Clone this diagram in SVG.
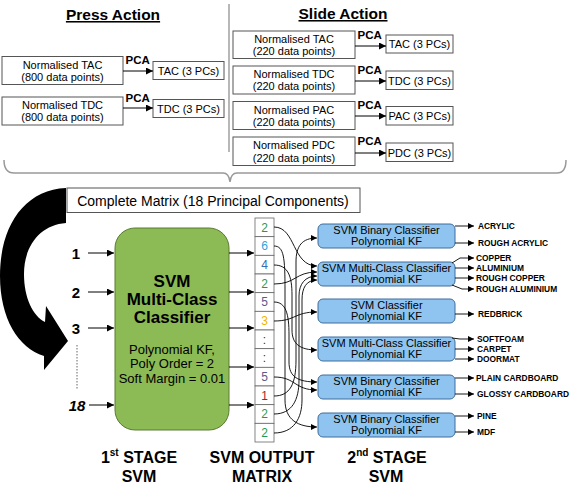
<svg xmlns="http://www.w3.org/2000/svg" width="572" height="486" viewBox="0 0 572 486">
<defs>
<marker id="a" viewBox="0 0 10 10" refX="10" refY="5" markerWidth="9" markerHeight="7" markerUnits="userSpaceOnUse" orient="auto"><path d="M0,0 L10,5 L0,10 Z" fill="#000"/></marker>
<marker id="as" viewBox="0 0 10 10" refX="10" refY="5" markerWidth="8" markerHeight="6" markerUnits="userSpaceOnUse" orient="auto"><path d="M0,0 L10,5 L0,10 Z" fill="#000"/></marker>
</defs>
<style>
text{font-family:"Liberation Sans",Arial,sans-serif;fill:#000}
.b{fill:#fff;stroke:#555;stroke-width:1}
.s11{font-size:11px}
.pca{font-size:11.5px;font-weight:bold}
.ttl{font-size:15.5px;font-weight:bold;text-decoration:underline}
.arr{fill:none;stroke:#000;stroke-width:1;marker-end:url(#a)}
.con{fill:none;stroke:#000;stroke-width:0.9;marker-end:url(#as)}
.blue{fill:#8fc4f0;stroke:#3f6d9c;stroke-width:1}
.bt{font-size:11px;text-anchor:middle}
.lab{font-size:8.4px;font-weight:bold}
.num{font-size:15px;font-weight:bold;text-anchor:middle}
.cell{fill:#fff;stroke:#666;stroke-width:0.8}
.cn{font-size:12px;text-anchor:middle}
.big{font-size:16px;font-weight:bold;text-anchor:middle}
</style>
<rect width="572" height="486" fill="#fff"/>

<g id="titles">
<text class="ttl" x="113" y="20" text-anchor="middle">Press Action</text>
<text class="ttl" x="343" y="19" text-anchor="middle">Slide Action</text>
<line x1="229" y1="4" x2="229" y2="152" stroke="#888" stroke-width="1.2"/>
</g>

<g id="press-tac">
<rect class="b" x="2" y="56.5" width="121" height="28"/>
<text class="s11" x="62.5" y="68.5" text-anchor="middle">Normalised TAC</text>
<text class="s11" x="62.5" y="80.5" text-anchor="middle">(800 data points)</text>
<text class="pca" x="125.5" y="64">PCA</text>
<rect class="b" x="153" y="61.5" width="71" height="18"/>
<text class="s11" x="188.5" y="74.5" text-anchor="middle">TAC (3 PCs)</text>
</g>
<g id="press-tdc">
<rect class="b" x="2" y="97" width="121" height="28"/>
<text class="s11" x="62.5" y="109" text-anchor="middle">Normalised TDC</text>
<text class="s11" x="62.5" y="121" text-anchor="middle">(800 data points)</text>
<text class="pca" x="125.5" y="102">PCA</text>
<rect class="b" x="153" y="99.5" width="71" height="18"/>
<text class="s11" x="188.5" y="112.5" text-anchor="middle">TDC (3 PCs)</text>
</g>

<g id="slide-tac">
<rect class="b" x="233" y="31" width="122" height="27.5"/>
<text class="s11" x="294" y="43" text-anchor="middle">Normalised TAC</text>
<text class="s11" x="294" y="55" text-anchor="middle">(220 data points)</text>
<text class="pca" x="357.5" y="39">PCA</text>
<rect class="b" x="386" y="35" width="67" height="18"/>
<text class="s11" x="419.5" y="48" text-anchor="middle">TAC (3 PCs)</text>
</g>
<g id="slide-tdc">
<rect class="b" x="233" y="66" width="122" height="28"/>
<text class="s11" x="294" y="78" text-anchor="middle">Normalised TDC</text>
<text class="s11" x="294" y="90" text-anchor="middle">(220 data points)</text>
<text class="pca" x="357.5" y="73.5">PCA</text>
<rect class="b" x="386" y="71" width="67" height="18.5"/>
<text class="s11" x="419.5" y="84.5" text-anchor="middle">TDC (3 PCs)</text>
</g>
<g id="slide-pac">
<rect class="b" x="233" y="101.5" width="122" height="28"/>
<text class="s11" x="294" y="113.5" text-anchor="middle">Normalised PAC</text>
<text class="s11" x="294" y="125.5" text-anchor="middle">(220 data points)</text>
<text class="pca" x="357.5" y="109">PCA</text>
<rect class="b" x="386" y="106.5" width="67" height="18.5"/>
<text class="s11" x="419.5" y="120" text-anchor="middle">PAC (3 PCs)</text>
</g>
<g id="slide-pdc">
<rect class="b" x="233" y="137" width="122" height="28.5"/>
<text class="s11" x="294" y="149" text-anchor="middle">Normalised PDC</text>
<text class="s11" x="294" y="161.5" text-anchor="middle">(220 data points)</text>
<text class="pca" x="357.5" y="145">PCA</text>
<rect class="b" x="386" y="143" width="67" height="18.5"/>
<text class="s11" x="419.5" y="156.5" text-anchor="middle">PDC (3 PCs)</text>
</g>

<g id="brace">
<path d="M4,160 Q4,173 14,173 L223,173 Q229,173 230,182 Q231,173 237,173 L557,173 Q566,173 566,160" fill="none" stroke="#999" stroke-width="1.5"/>
</g>

<g id="complete-matrix">
<rect class="b" x="67" y="188" width="293" height="24.5"/>
<text x="213" y="205.5" font-size="14" text-anchor="middle">Complete Matrix (18 Principal Components)</text>
</g>

<g id="big-arrow">
<path d="M66,188 C24,190 0,226 0,276 C0,318 18,348 44,356 L44,370 L68,341 L46,306 L45,322 C33,316 24,298 24,274 C24,246 40,225 66,223 Z" fill="#000"/>
</g>

<g id="inputs">
<text class="num" x="76" y="259">1</text>
<text class="num" x="76" y="298">2</text>
<text class="num" x="76" y="334">3</text>
<line x1="77" y1="345" x2="77" y2="390" stroke="#666" stroke-width="1" stroke-dasharray="1.5,1.5"/>
<text class="num" x="77" y="411" font-style="italic">18</text>
</g>

<g id="svm1">
<rect x="115" y="228" width="114" height="202" rx="20" fill="#8cba55" stroke="#5a7b33" stroke-width="1"/>
<text x="172" y="287" font-size="17" font-weight="bold" text-anchor="middle">SVM</text>
<text x="172" y="305" font-size="17" font-weight="bold" text-anchor="middle">Multi-Class</text>
<text x="172" y="323" font-size="17" font-weight="bold" text-anchor="middle">Classifier</text>
<text x="172" y="354" font-size="13" text-anchor="middle">Polynomial KF,</text>
<text x="172" y="368" font-size="13" text-anchor="middle">Poly Order = 2</text>
<text x="172" y="383" font-size="13" text-anchor="middle">Soft Margin = 0.01</text>
</g>

<g id="matrix">
<rect class="cell" x="255" y="218" width="19" height="18.67"/>
<rect class="cell" x="255" y="236.67" width="19" height="18.67"/>
<rect class="cell" x="255" y="255.33" width="19" height="18.67"/>
<rect class="cell" x="255" y="274" width="19" height="18.67"/>
<rect class="cell" x="255" y="292.67" width="19" height="18.67"/>
<rect class="cell" x="255" y="311.33" width="19" height="18.67"/>
<rect class="cell" x="255" y="330" width="19" height="18.67"/>
<rect class="cell" x="255" y="348.67" width="19" height="18.67"/>
<rect class="cell" x="255" y="367.33" width="19" height="18.67"/>
<rect class="cell" x="255" y="386" width="19" height="18.67"/>
<rect class="cell" x="255" y="404.67" width="19" height="18.67"/>
<rect class="cell" x="255" y="423.33" width="19" height="18.67"/>
<text class="cn" x="264.5" y="231.5" style="fill:#1f9a55">2</text>
<text class="cn" x="264.5" y="250.2" style="fill:#2ea3dc">6</text>
<text class="cn" x="264.5" y="268.9" style="fill:#2f6fb3">4</text>
<text class="cn" x="264.5" y="287.5" style="fill:#1f9a55">2</text>
<text class="cn" x="264.5" y="306.2" style="fill:#5b5a8e">5</text>
<text class="cn" x="264.5" y="324.9" style="fill:#f0b400">3</text>
<text class="cn" x="264.5" y="343.5" style="fill:#333">:</text>
<text class="cn" x="264.5" y="362.2" style="fill:#333">:</text>
<text class="cn" x="264.5" y="380.9" style="fill:#5b5a8e">5</text>
<text class="cn" x="264.5" y="399.5" style="fill:#a51f2c">1</text>
<text class="cn" x="264.5" y="418.2" style="fill:#1f9a55">2</text>
<text class="cn" x="264.5" y="436.9" style="fill:#1f9a55">2</text>
</g>

<g id="svm2-1">
<rect class="blue" x="318" y="224" width="137" height="24" rx="5"/>
<text class="bt" x="386.5" y="234">SVM Binary Classifier</text>
<text class="bt" x="386.5" y="245">Polynomial KF</text>
</g>
<g id="svm2-2">
<rect class="blue" x="318" y="262" width="137" height="24" rx="5"/>
<text class="bt" x="386.5" y="272">SVM Multi-Class Classifier</text>
<text class="bt" x="386.5" y="283">Polynomial KF</text>
</g>
<g id="svm2-3">
<rect class="blue" x="318" y="299" width="137" height="24" rx="5"/>
<text class="bt" x="386.5" y="309">SVM Classifier</text>
<text class="bt" x="386.5" y="320">Polynomial KF</text>
</g>
<g id="svm2-4">
<rect class="blue" x="318" y="337" width="137" height="24" rx="5"/>
<text class="bt" x="386.5" y="347">SVM Multi-Class Classifier</text>
<text class="bt" x="386.5" y="358">Polynomial KF</text>
</g>
<g id="svm2-5">
<rect class="blue" x="318" y="375" width="137" height="24" rx="5"/>
<text class="bt" x="386.5" y="385">SVM Binary Classifier</text>
<text class="bt" x="386.5" y="396">Polynomial KF</text>
</g>
<g id="svm2-6">
<rect class="blue" x="318" y="413" width="137" height="24" rx="5"/>
<text class="bt" x="386.5" y="423">SVM Binary Classifier</text>
<text class="bt" x="386.5" y="434">Polynomial KF</text>
</g>

<g id="outputs">
<text class="lab" x="478" y="229">ACRYLIC</text>
<text class="lab" x="478" y="246">ROUGH ACRYLIC</text>
<text class="lab" x="476" y="260.5">COPPER</text>
<text class="lab" x="476" y="270.5">ALUMINIUM</text>
<text class="lab" x="476" y="281">ROUGH COPPER</text>
<text class="lab" x="476" y="292">ROUGH ALUMINIUM</text>
<text class="lab" x="478" y="317">REDBRICK</text>
<text class="lab" x="477" y="341.5">SOFTFOAM</text>
<text class="lab" x="477" y="351.5">CARPET</text>
<text class="lab" x="477" y="361.5">DOORMAT</text>
<text class="lab" x="476" y="381">PLAIN CARDBOARD</text>
<text class="lab" x="477" y="397">GLOSSY CARDBOARD</text>
<text class="lab" x="477" y="419">PINE</text>
<text class="lab" x="477" y="435">MDF</text>
</g>

<g id="labels">
<text class="big" x="139" y="463">1<tspan font-size="10" dy="-7">st</tspan><tspan dy="7"> STAGE</tspan></text>
<text class="big" x="139" y="482">SVM</text>
<text class="big" x="262" y="463">SVM OUTPUT</text>
<text class="big" x="262" y="482">MATRIX</text>
<text class="big" x="387" y="463">2<tspan font-size="10" dy="-7">nd</tspan><tspan dy="7"> STAGE</tspan></text>
<text class="big" x="386" y="482">SVM</text>
</g>

<g id="connectors">
<line class="arr" x1="123" y1="71" x2="153" y2="71"/>
<line class="arr" x1="123" y1="108" x2="153" y2="108"/>
<line class="arr" x1="355" y1="46" x2="386" y2="46"/>
<line class="arr" x1="355" y1="81" x2="386" y2="81"/>
<line class="arr" x1="355" y1="116" x2="386" y2="116"/>
<line class="arr" x1="355" y1="153" x2="386" y2="153"/>

<line class="arr" x1="88" y1="253" x2="114" y2="253"/>
<line class="arr" x1="88" y1="292" x2="114" y2="292"/>
<line class="arr" x1="88" y1="328" x2="114" y2="328"/>
<line class="arr" x1="89" y1="405" x2="114" y2="405"/>

<line class="arr" x1="229" y1="253" x2="254" y2="253"/>
<line class="arr" x1="229" y1="292" x2="254" y2="292"/>
<line class="arr" x1="229" y1="328" x2="254" y2="328"/>
<line class="arr" x1="229" y1="367" x2="254" y2="367"/>
<line class="arr" x1="229" y1="405" x2="254" y2="405"/>

<path class="con" d="M274,227 C296,227 292,266 317,266"/>
<path class="con" d="M274,246 C284,246 285,258 285,290 L285,400 C285,420 298,427 317,427"/>
<path class="con" d="M274,265 C288,265 292,276 292,295 L292,330 C292,344 300,350 317,350"/>
<path class="con" d="M274,284 C296,284 295,272 317,272"/>
<path class="con" d="M274,302 C286,302 289,314 289,335 L289,362 C289,377 298,382 317,382"/>
<path class="con" d="M274,321 C296,321 294,312 317,312"/>
<path class="con" d="M274,377 C296,377 294,390 317,390"/>
<path class="con" d="M274,396 C290,396 296,384 296,360 L296,262 C296,246 302,238 317,238"/>
<path class="con" d="M274,414 C292,414 299,400 299,380 L299,296 C299,284 305,276 317,276"/>
<path class="con" d="M274,433 C294,433 302,418 302,400 L302,300 C302,288 306,280 317,280"/>

<path class="con" d="M455,226 L474,226"/>
<path class="con" d="M455,243 L474,243"/>
<path class="con" d="M452,263 L460,258 L474,258"/>
<path class="con" d="M455,268 L474,268"/>
<path class="con" d="M455,278 L474,278"/>
<path class="con" d="M452,285 L462,289 L474,289"/>
<path class="con" d="M455,314 L474,314"/>
<path class="con" d="M452,338 L460,339 L474,339"/>
<path class="con" d="M455,349 L474,349"/>
<path class="con" d="M455,359 L474,359"/>
<path class="con" d="M455,378 L474,378"/>
<path class="con" d="M455,394 L474,394"/>
<path class="con" d="M455,416 L474,416"/>
<path class="con" d="M455,432 L474,432"/>
</g>
</svg>
